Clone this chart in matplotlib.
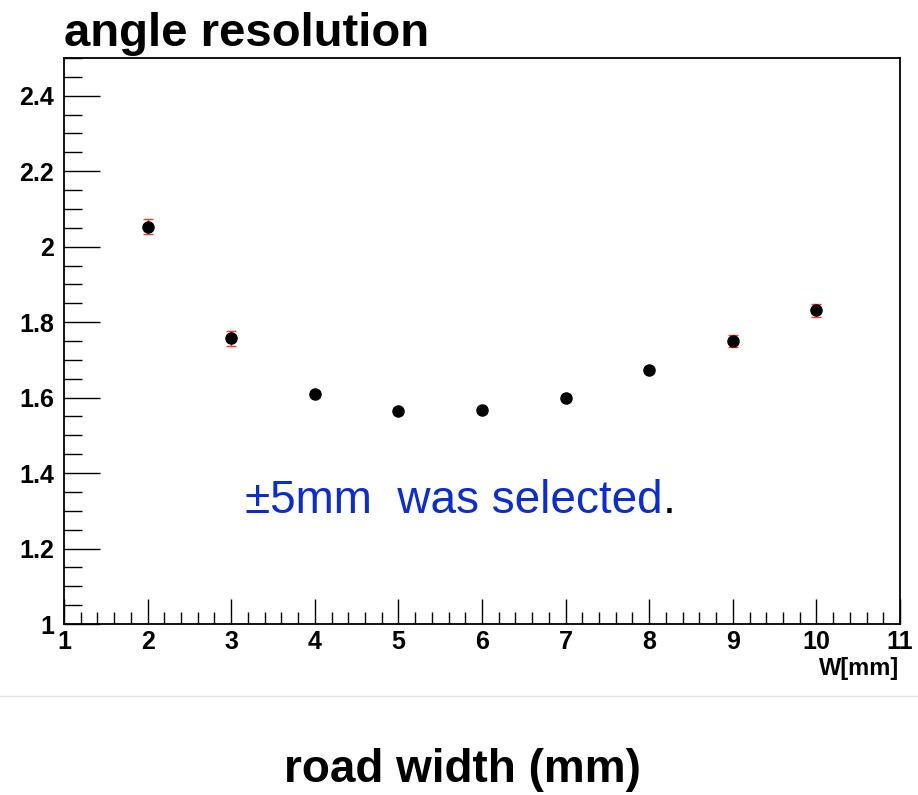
import matplotlib
matplotlib.use("Agg")
import matplotlib.pyplot as plt
from matplotlib.ticker import MultipleLocator
from matplotlib.lines import Line2D

plt.rcParams['font.family'] = ['Liberation Sans', 'DejaVu Sans']

widths = [2, 3, 4, 5, 6, 7, 8, 9, 10]
resolution = [2.053, 1.757, 1.610, 1.564, 1.567, 1.599, 1.674, 1.751, 1.831]
errors = [0.020, 0.020, 0.008, 0.007, 0.007, 0.007, 0.008, 0.016, 0.017]

fig = plt.figure(figsize=(9.18, 7.95), dpi=100)
ax = fig.add_axes([64/918, 1-624/795, (900-64)/918, (624-58)/795])

ax.errorbar(widths, resolution, yerr=errors, fmt='o', color='black',
            ecolor='#ff3b1f', elinewidth=1.0, capsize=3.5, capthick=1.0,
            markersize=8, zorder=3)

ax.set_xlim(1, 11)
ax.set_ylim(1, 2.5)
ax.xaxis.set_minor_locator(MultipleLocator(0.2))
ax.yaxis.set_minor_locator(MultipleLocator(0.05))
ax.set_yticks([1.0, 1.2, 1.4, 1.6, 1.8, 2.0, 2.2, 2.4])
ax.set_yticklabels(['1', '1.2', '1.4', '1.6', '1.8', '2', '2.2', '2.4'])
ax.set_xticks(range(1, 12))
ax.set_xticklabels([str(i) for i in range(1, 12)])

ax.tick_params(axis='x', which='major', direction='in', length=18, width=1,
               labelsize=18, pad=4, top=False)
ax.tick_params(axis='x', which='minor', direction='in', length=9, width=1, top=False)
ax.tick_params(axis='y', which='major', direction='in', length=26, width=1,
               labelsize=18, pad=7, right=False)
ax.tick_params(axis='y', which='minor', direction='in', length=13, width=1, right=False)
for lab in ax.get_xticklabels() + ax.get_yticklabels():
    lab.set_fontweight('bold')
for s in ax.spines.values():
    s.set_linewidth(1.3)

fig.text(64/918, 1-46/795, 'angle resolution', fontsize=34, fontweight='bold',
         ha='left', va='baseline')
fig.text(899/918, 1-669/795, 'W[mm]', fontsize=17, fontweight='bold',
         ha='right', va='center')
fig.text(462/918, 1-782/795, 'road width (mm)', fontsize=33, fontweight='bold',
         ha='center', va='baseline')

t = fig.text(245/918, 1-513/795, '±5mm  was selected', fontsize=33,
             color='#0a2bd6', ha='left', va='baseline')
fig.canvas.draw()
bb = t.get_window_extent()
fig.text(bb.x1/918, 1-513/795, '.', fontsize=33, color='black', ha='left', va='baseline')

fig.add_artist(Line2D([0, 1], [1-696/795, 1-696/795], color='#e6e6e6', lw=1,
                      transform=fig.transFigure))

fig.savefig('out.png', dpi=100)
